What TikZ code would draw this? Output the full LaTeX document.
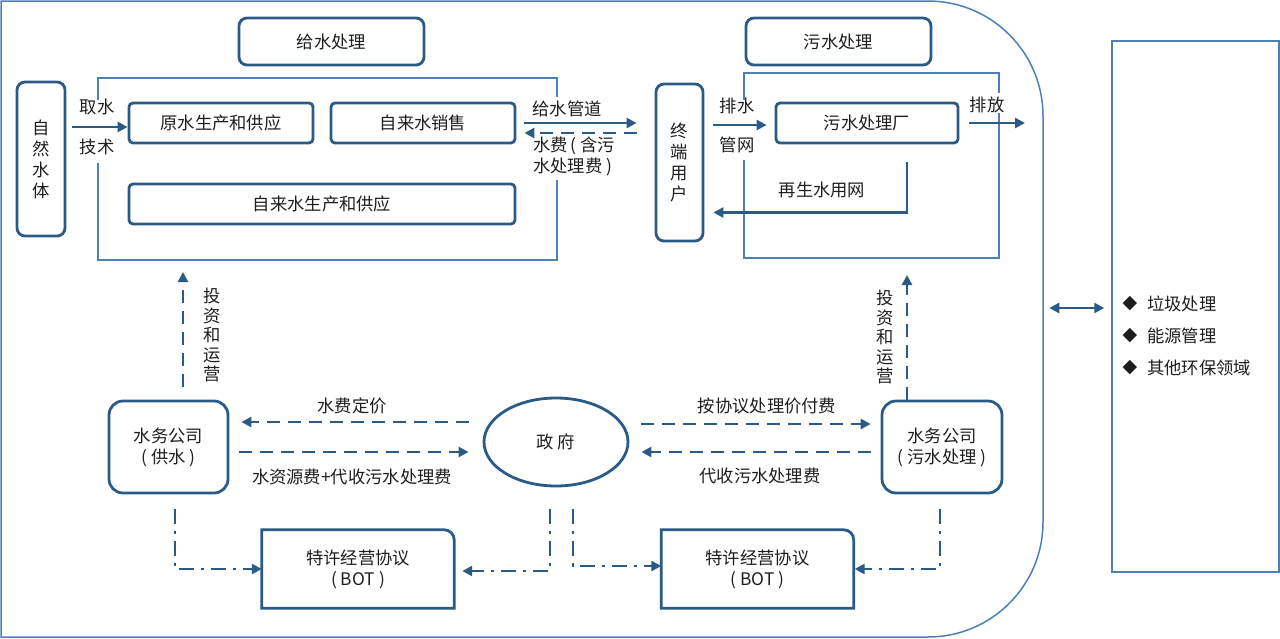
\documentclass[tikz,border=0pt]{standalone}
\usepackage{fontspec}
\setmainfont{Noto Sans CJK SC}
\newfontfamily\symfont{DejaVu Sans}
\usetikzlibrary{arrows.meta,calc,shapes.geometric}
\definecolor{dk}{HTML}{2B5A87}
\definecolor{fr}{HTML}{4F7FB8}
\definecolor{tx}{HTML}{1E1E1E}
\newcommand{\lpar}{(\hspace{4pt}}
\newcommand{\rpar}{\hspace{4pt})}
\begin{document}
\begin{tikzpicture}[x=1pt,y=-1pt,
  every node/.style={text=tx, font=\fontsize{17.3}{21}\selectfont, inner sep=0pt, align=center},
  box/.style={draw=dk, line width=2.8pt, rounded corners=4pt},
  boxline/.style={draw=dk, line width=2.8pt},
  frameline/.style={draw=fr, line width=1.5pt},
  arr/.style={draw=dk, line width=2.8pt, -{Triangle[length=10pt,width=10pt]}},
  arrtwo/.style={draw=dk, line width=2.8pt, {Triangle[length=10pt,width=10pt]}-{Triangle[length=10pt,width=10pt]}},
  darr/.style={arr, dash pattern=on 13pt off 8pt},
  ddarr/.style={arr, dash pattern=on 15pt off 7pt on 3pt off 7pt},
  vtext/.style={font=\fontsize{17.3}{19.5}\selectfont}
]
\useasboundingbox (0,0) rectangle (1280,638);

% outer frame
\draw[frameline] (1,637) -- (1,1) -- (928,1) arc[start angle=90,end angle=0,radius=115pt] -- (1043,522) arc[start angle=0,end angle=-90,radius=115pt] -- cycle;

% inner frames with gaps
\draw[frameline] (98,100) -- (98,78) -- (557,78) -- (557,97);
\draw[frameline] (557,180) -- (557,260) -- (98,260) -- (98,163);
\draw[frameline] (744,100) -- (744,73) -- (999,73) -- (999,93);
\draw[frameline] (999,113) -- (999,258) -- (744,258) -- (744,160);

% top nodes
\node[box, rounded corners=8pt, minimum width=185pt, minimum height=47pt] (gsT) at (331.5,41.5) {给水处理};
\node[box, rounded corners=8pt, minimum width=185pt, minimum height=47pt] (wsT) at (838.5,41.5) {污水处理};
\node[box, rounded corners=8pt, minimum width=48pt, minimum height=154pt] (zr) at (41,159) {自\\然\\水\\体};
\node[box, minimum width=184pt, minimum height=40pt] (ys) at (221,123) {原水生产和供应};
\node[box, minimum width=184pt, minimum height=40pt] (xs) at (423,123) {自来水销售};
\node[box, minimum width=386pt, minimum height=40pt] (zls) at (322,204) {自来水生产和供应};
\node[box, rounded corners=8pt, minimum width=47pt, minimum height=157pt] (yh) at (679.5,162.5) {终\\端\\用\\户};
\node[box, minimum width=182pt, minimum height=40pt] (wsc) at (867,123) {污水处理厂};
\coordinate (pf) at (1025,123);

% bottom nodes
\node[box, rounded corners=14pt, minimum width=119pt, minimum height=92pt] (gs) at (168.5,447) {水务公司\\\lpar 供水\rpar};
\node[box, ellipse, minimum width=144pt, minimum height=88pt] (gov) at (556,442) {政\ 府};
\node[box, rounded corners=14pt, minimum width=120pt, minimum height=92pt] (ws) at (942,447) {水务公司\\\lpar 污水处理\rpar};
\node[minimum width=192pt, minimum height=78pt] (bot1) at (358,569) {特许经营协议\\\lpar BOT\rpar};
\node[minimum width=192pt, minimum height=78pt] (bot2) at (757.5,569) {特许经营协议\\\lpar BOT\rpar};
\draw[boxline] (bot1.north west) -- ($(bot1.north east)+(-10,0)$) arc[start angle=90,end angle=0,radius=10pt] -- (bot1.south east) -- (bot1.south west) -- cycle;
\draw[boxline] (bot2.north west) -- ($(bot2.north east)+(-10,0)$) arc[start angle=90,end angle=0,radius=10pt] -- (bot2.south east) -- (bot2.south west) -- cycle;
\coordinate (inv1) at (183,272);
\coordinate (inv2) at (907,275);

% right box
\node[frameline, draw=fr, minimum width=167pt, minimum height=531pt] (rb) at (1195.5,306.5) {};
\node (d1) at (1130,304) {\fontsize{19}{21}\symfont ◆};
\node (d2) at (1130,336) {\fontsize{19}{21}\symfont ◆};
\node (d3) at (1130,368) {\fontsize{19}{21}\symfont ◆};
\node[anchor=west] (t1) at (1147,304) {垃圾处理};
\node[anchor=west] (t2) at (1147,336) {能源管理};
\node[anchor=west] (t3) at (1147,368) {其他环保领域};
\draw[arrtwo] ($(rb.west)+(-62,1.5)$) -- ($(rb.west)+(-7,1.5)$);

% top connectors
\draw[arr] ($(zr.east |- ys.west)+(6,4)$) -- ($(ys.west)+(0,4)$);
\node (lqs) at (97,107) {取水};
\node (ljs) at (97,147) {技术};
\draw[arr] ($(xs.east)+(8,0)$) -- ($(yh.west |- xs.east)+(-18,0)$);
\draw[darr] ($(yh.west |- xs.east)+(-18,10)$) -- ($(xs.east)+(8,10)$);
\node (lgs) at (567,109) {给水管道};
\node[anchor=north west, align=left] (lsf) at (533,137) {水费\hspace{3pt}\lpar 含污\\水处理费\rpar};
\draw[arr] ($(yh.east |- wsc.west)+(9,2)$) -- ($(wsc.west)+(-8,2)$);
\node (lps) at (737,106) {排水};
\node (lgw) at (737,145) {管网};
\draw[arr] ($(wsc.east)+(10,0)$) -- (pf);
\node (lpf) at (987,105) {排放};
\draw[arr] ($(wsc.south)+(40,18)$) |- ($(yh.east)+(9,50)$);
\node (lzs) at (822,190) {再生水用网};

% bottom connectors
\draw[darr] ($(gs.north)+(14.5,-13)$) -- (inv1);
\node[vtext] (ltz1) at (212,335) {投\\资\\和\\运\\营};
\draw[darr] ($(ws.north)+(-35,0)$) -- (inv2);
\node[vtext] (ltz2) at (885,337) {投\\资\\和\\运\\营};

\draw[darr] ($(gov.west)+(-14,-20)$) -- ($(gs.east)+(12,-25)$);
\node (lsfdj) at (352,406) {水费定价};
\draw[darr] ($(gs.east)+(10,5)$) -- ($(gov.west)+(-14,10)$);
\node (lszy) at (352,477) {水资源费+代收污水处理费};
\draw[darr] ($(gov.east)+(12,-18)$) -- ($(ws.west)+(-10,-23)$);
\node (laxy) at (767,406) {按协议处理价付费};
\draw[darr] ($(ws.west)+(-10,5)$) -- ($(gov.east)+(12,10)$);
\node (ldsw) at (760,476) {代收污水处理费};

\draw[ddarr] ($(gs.south)+(6.5,15)$) |- (bot1.west);
\draw[ddarr] ($(gov.south)+(-6,22)$) |- ($(bot1.east)+(8,2)$);
\draw[ddarr] ($(gov.south)+(17,22)$) |- ($(bot2.west)+(0,-3)$);
\draw[ddarr] ($(ws.south)+(-2,15)$) |- ($(bot2.east)+(1,0)$);
\end{tikzpicture}
\end{document}
